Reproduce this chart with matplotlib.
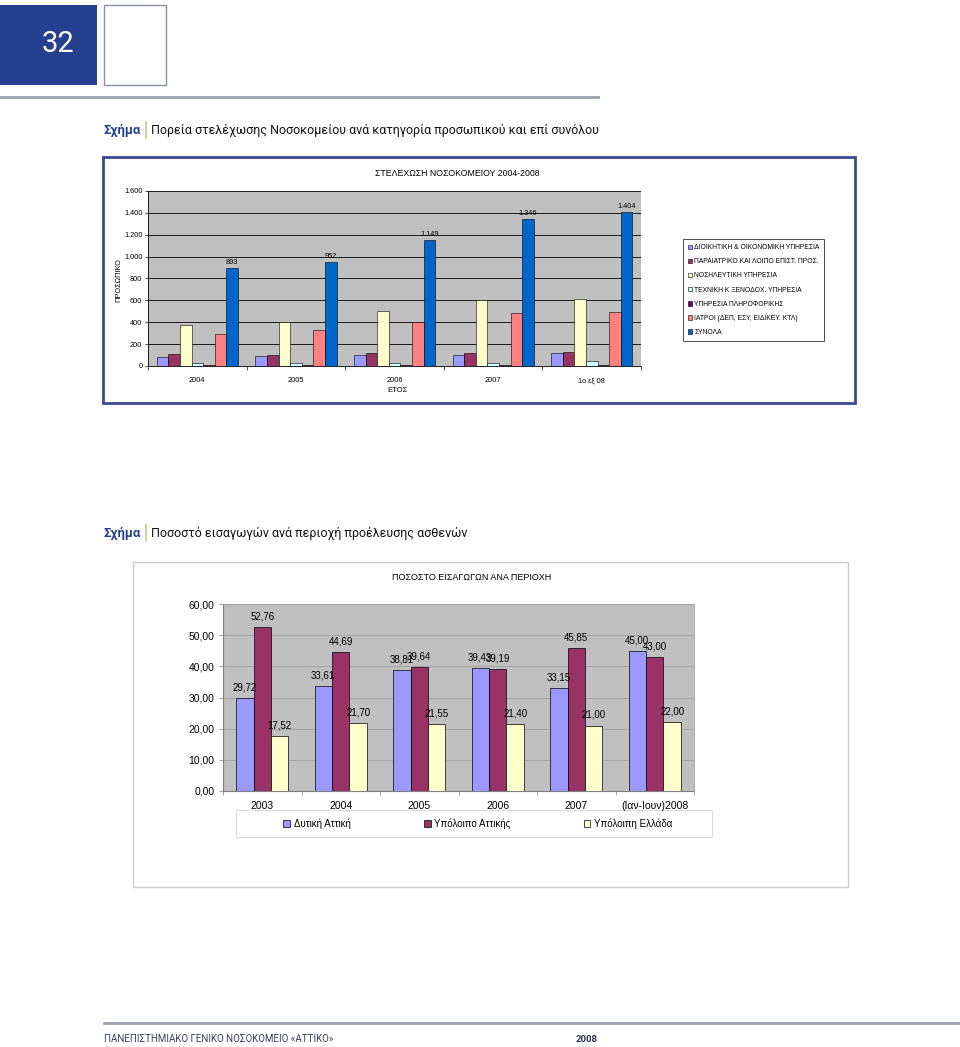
import numpy as np
import matplotlib
matplotlib.use("Agg")
import matplotlib.pyplot as plt
from matplotlib.patches import Rectangle
from matplotlib.ticker import FuncFormatter, FixedLocator

# ---- data: chart 1 (staff by category) ----
years1 = ['2004', '2005', '2006', '2007', '1ο εξ 08']
series1 = ['ΔΙΟΙΚΗΤΙΚΗ & ΟΙΚΟΝΟΜΙΚΗ ΥΠΗΡΕΣΙΑ',
           'ΠΑΡΑΙΑΤΡΙΚΟ ΚΑΙ ΛΟΙΠΟ ΕΠΙΣΤ. ΠΡΟΣ.',
           'ΝΟΣΗΛΕΥΤΙΚΗ ΥΠΗΡΕΣΙΑ',
           'ΤΕΧΝΙΚΗ Κ ΞΕΝΟΔΟΧ. ΥΠΗΡΕΣΙΑ',
           'ΥΠΗΡΕΣΙΑ ΠΛΗΡΟΦΟΡΙΚΗΣ',
           'ΙΑΤΡΟΙ (ΔΕΠ, ΕΣΥ, ΕΙΔΙΚΕΥ. ΚΤΛ)',
           'ΣΥΝΟΛΑ']
dioikitiki = [85, 88, 100, 105, 120]
paraiatriko = [108, 105, 115, 120, 125]
nosileftiki = [375, 400, 500, 600, 610]
texniki = [30, 28, 28, 30, 45]
pliroforiki = [5, 5, 5, 5, 5]
iatroi = [295, 325, 400, 485, 495]
synola = [893, 952, 1149, 1346, 1404]
colors1 = ['#9999ff', '#993366', '#ffffcc', '#ccffff', '#660066', '#ff8080', '#0066cc']

# ---- data: chart 2 (admissions by region, %) ----
years2 = ['2003', '2004', '2005', '2006', '2007', '(Ιαν-Ιουν)2008']
series2 = ['Δυτική Αττική', 'Υπόλοιπο Αττικής', 'Υπόλοιπη Ελλάδα']
dytiki = [29.72, 33.61, 38.81, 39.43, 33.15, 45.00]
ypoloipo_attikis = [52.76, 44.69, 39.64, 39.19, 45.85, 43.00]
ypoloipi_ellada = [17.52, 21.70, 21.55, 21.40, 21.00, 22.00]
colors2 = ['#9999ff', '#993366', '#ffffcc']

W, H = 960, 1047
fig = plt.figure(figsize=(W / 100, H / 100), dpi=100)
fig.patch.set_facecolor('white')

def rect(x0, y0, x1, y1):
    return [x0 / W, 1 - y1 / H, (x1 - x0) / W, (y1 - y0) / H]

page = fig.add_axes([0, 0, 1, 1], zorder=0)
page.set_xlim(0, W)
page.set_ylim(H, 0)
page.axis('off')

cap_font = ['Roboto', 'DejaVu Sans']
chart1_font = ['Liberation Sans Narrow', 'Liberation Sans', 'DejaVu Sans']
chart2_font = ['Liberation Sans', 'DejaVu Sans']

# page header
page.add_patch(Rectangle((0, 5), 97, 80, facecolor='#24408e', edgecolor='none'))
page.text(58, 44, '32', color='white', fontsize=21, ha='center', va='center', family=cap_font)
page.add_patch(Rectangle((104, 5), 62, 80, facecolor='white', edgecolor='#8a8fa8', lw=1))
page.plot([0, 598], [97, 97], color='#9ba1ad', lw=2)

def caption(y, text):
    page.text(104, y, 'Σχήμα', color='#24408e', fontsize=9.4, fontweight='bold',
              va='center', family=cap_font)
    page.plot([146, 146], [y - 8, y + 8], color='#c8cc6a', lw=1.2)
    page.text(151, y, text, color='#111111', fontsize=9.0, va='center', family=cap_font)

caption(130, 'Πορεία στελέχωσης Νοσοκομείου ανά κατηγορία προσωπικού και επί συνόλου')
caption(533, 'Ποσοστό εισαγωγών ανά περιοχή προέλευσης ασθενών')

# ---- chart 1 ----
page.add_patch(Rectangle((103, 157), 752, 246, facecolor='white', edgecolor='#3b4a8c', lw=2))
page.text(457, 173, 'ΣΤΕΛΕΧΩΣΗ ΝΟΣΟΚΟΜΕΙΟΥ 2004-2008', fontsize=6.3, ha='center',
          va='center', family=chart1_font)

ax1 = fig.add_axes(rect(148, 191, 641, 366), zorder=2)
ax1.set_facecolor('#c0c0c0')
vals1 = [dioikitiki, paraiatriko, nosileftiki, texniki, pliroforiki, iatroi, synola]
x1 = np.arange(len(years1))
w1 = 1 / 8.5
for j, (name, v, c) in enumerate(zip(series1, vals1, colors1)):
    ax1.bar(x1 + (j - 3) * w1, v, w1, color=c, edgecolor='black', lw=0.4,
            label=name, zorder=3)
for xi, v in zip(x1 + 3 * w1, synola):
    ax1.annotate(f'{v:,}'.replace(',', '.'), (xi, v), xytext=(0, 1.5),
                 textcoords='offset points', ha='center', va='bottom',
                 fontsize=5.3, family=chart1_font)
ax1.set_xlim(-0.5, len(years1) - 0.5)
ax1.set_ylim(0, 1600)
ax1.set_yticks(np.arange(0, 1601, 200))
ax1.yaxis.set_major_formatter(FuncFormatter(lambda v, p: f'{int(v):,}'.replace(',', '.')))
ax1.set_xticks(x1)
ax1.set_xticklabels(years1)
ax1.xaxis.set_minor_locator(FixedLocator(np.arange(-0.5, len(years1), 1)))
ax1.tick_params(axis='x', which='major', length=0, pad=8)
ax1.tick_params(axis='x', which='minor', length=3, width=0.5)
ax1.tick_params(axis='y', length=2, width=0.5, pad=2)
for lab in ax1.get_xticklabels() + ax1.get_yticklabels():
    lab.set_fontsize(5.3)
    lab.set_family(chart1_font)
ax1.grid(axis='y', color='black', lw=0.6, zorder=1)
ax1.set_axisbelow(True)
for s in ['top', 'right']:
    ax1.spines[s].set_visible(False)
for s in ['left', 'bottom']:
    ax1.spines[s].set_linewidth(0.6)
page.text(398, 391, 'ΕΤΟΣ', fontsize=5.5, ha='center', va='center', family=chart1_font)
page.text(119, 280, 'ΠΡΟΣΩΠΙΚΟ', fontsize=5.3, ha='center', va='center', rotation=90,
          family=chart1_font)
leg1 = ax1.legend(loc='upper left', bbox_to_anchor=(680 / W, 1 - 236 / H),
                  bbox_transform=fig.transFigure, frameon=True,
                  fancybox=False, edgecolor='black', handlelength=0.6, handleheight=0.6,
                  handletextpad=0.3, labelspacing=1.05, borderpad=0.7,
                  prop={'family': chart1_font, 'size': 4.9})
leg1.get_frame().set_linewidth(0.6)

# ---- chart 2 ----
page.add_patch(Rectangle((133, 562), 715, 325, facecolor='white', edgecolor='#cccccc', lw=1))
page.text(472, 577, 'ΠΟΣΟΣΤΟ ΕΙΣΑΓΩΓΩΝ ΑΝΑ ΠΕΡΙΟΧΗ', fontsize=6.5, ha='center',
          va='center', family=chart2_font)

ax2 = fig.add_axes(rect(223, 604, 694, 791), zorder=2)
ax2.set_facecolor('#c0c0c0')
vals2 = [dytiki, ypoloipo_attikis, ypoloipi_ellada]
x2 = np.arange(len(years2))
w2 = 1 / 4.5
for j, (name, v, c) in enumerate(zip(series2, vals2, colors2)):
    pos = x2 + (j - 1) * w2
    ax2.bar(pos, v, w2, color=c, edgecolor='black', lw=0.5, label=name, zorder=3)
    for xi, vi in zip(pos, v):
        ax2.annotate(f'{vi:.2f}'.replace('.', ','), (xi, vi), xytext=(0, 4),
                     textcoords='offset points', ha='center', va='bottom',
                     fontsize=7, family=chart2_font, zorder=4)
ax2.set_xlim(-0.5, len(years2) - 0.5)
ax2.set_ylim(0, 60)
ax2.set_yticks(np.arange(0, 61, 10))
ax2.yaxis.set_major_formatter(FuncFormatter(lambda v, p: f'{v:.2f}'.replace('.', ',')))
ax2.set_xticks(x2)
ax2.set_xticklabels(years2)
ax2.xaxis.set_minor_locator(FixedLocator(np.arange(-0.5, len(years2), 1)))
ax2.tick_params(axis='x', which='major', length=0, pad=7)
ax2.tick_params(axis='x', which='minor', length=3, width=0.5, color='#808080')
ax2.tick_params(axis='y', length=3, width=0.5, color='#808080', pad=3)
for lab in ax2.get_xticklabels() + ax2.get_yticklabels():
    lab.set_fontsize(7.5)
    lab.set_family(chart2_font)
ax2.grid(axis='y', color='#a0a0a0', lw=0.6, zorder=1)
ax2.set_axisbelow(True)
for s in ['top', 'right']:
    ax2.spines[s].set_color('#a0a0a0')
    ax2.spines[s].set_linewidth(0.6)
for s in ['left', 'bottom']:
    ax2.spines[s].set_color('#808080')
    ax2.spines[s].set_linewidth(0.8)
page.add_patch(Rectangle((236, 810), 476, 27, facecolor='white', edgecolor='#dddddd', lw=0.8))
leg2 = ax2.legend(loc='center', bbox_to_anchor=(478 / W, 1 - 823.5 / H),
                  bbox_transform=fig.transFigure, ncol=3, frameon=False,
                  handlelength=0.7, handleheight=0.7, handletextpad=0.4,
                  columnspacing=7.5, borderaxespad=0, borderpad=0,
                  prop={'family': chart2_font, 'size': 7})

# ---- footer ----
page.plot([104, 960], [1023, 1023], color='#9ba1ad', lw=2)
page.text(104, 1039, 'ΠΑΝΕΠΙΣΤΗΜΙΑΚΟ ΓΕΝΙΚΟ ΝΟΣΟΚΟΜΕΙΟ «ΑΤΤΙΚΟ»', fontsize=7,
          color='#3a4262', va='center', family=cap_font)
page.text(576, 1039, '2008', fontsize=6.8, fontweight='bold', color='#2a3152',
          va='center', family=cap_font)

fig.savefig('out.png', dpi=100, facecolor='white')
